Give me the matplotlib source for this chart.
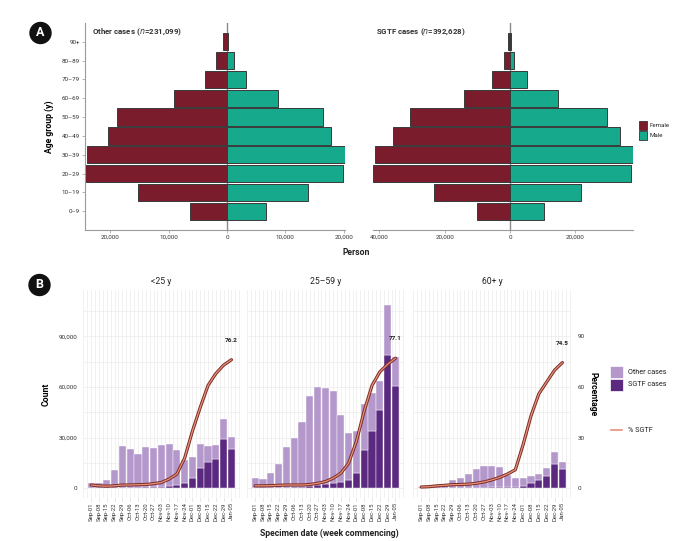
import matplotlib
matplotlib.use("Agg")
import matplotlib.pyplot as plt
from matplotlib.patches import Rectangle, Ellipse
from matplotlib.lines import Line2D
import numpy as np

plt.rcParams['font.family'] = ['Roboto', 'DejaVu Sans']

# ---- panel A data: cases by age group and sex ----
age_groups = ["0–9", "10–19", "20–29", "30–39", "40–49", "50–59",
              "60–69", "70–79", "80–89", "90+"]
other_female = [6340, 15260, 24340, 24060, 20460, 18860, 9030, 3830, 1830, 740]
other_male = [6630, 13940, 19940, 20170, 17770, 16460, 8740, 3260, 1140, 200]
sgtf_female = [10200, 23270, 41940, 41330, 35710, 30710, 14080, 5410, 1940, 610]
sgtf_male = [10410, 21630, 36940, 37650, 33670, 29690, 14690, 5100, 1220, 400]

# ---- panel B data: weekly counts by age band ----
weeks = ["Sep-01", "Sep-08", "Sep-15", "Sep-22", "Sep-29", "Oct-06", "Oct-13",
         "Oct-20", "Oct-27", "Nov-03", "Nov-10", "Nov-17", "Nov-24", "Dec-01",
         "Dec-08", "Dec-15", "Dec-22", "Dec-29", "Jan-05"]
facets = ["<25 y", "25–59 y", "60+ y"]
other_u25 = [3330, 2950, 5030, 10740, 24500, 22640, 19660, 23940, 23040, 24610,
             24950, 20770, 13200, 12500, 14000, 9500, 8700, 11700, 7100]
sgtf_u25 = [70, 50, 70, 160, 500, 460, 440, 560, 660, 890,
            1450, 1930, 3400, 5900, 12200, 15400, 17200, 29200, 23300]
pct_u25 = [2.0, 1.5, 1.3, 1.5, 2.0, 2.0, 2.2, 2.3, 2.8, 3.5,
           5.5, 8.5, 18, 34, 48, 61, 68, 73, 76.2]
other_25_59 = [5810, 5220, 9150, 14340, 24010, 29200, 38320, 53640, 58400, 57000,
               54000, 39700, 28100, 24500, 27000, 22500, 17000, 29600, 17400]
sgtf_25_59 = [90, 80, 150, 260, 490, 600, 780, 1260, 1800, 2400,
              3400, 3900, 4900, 9300, 22900, 34200, 46600, 79200, 60400]
pct_25_59 = [1.5, 1.5, 1.6, 1.8, 2.0, 2.0, 2.0, 2.3, 3.0, 4.0,
             6.0, 9.0, 15, 28, 46, 61, 69, 73.5, 77.1]
other_60p = [594, 990, 1770, 2550, 4600, 5770, 8090, 10960, 12510, 12350,
             11530, 7330, 5540, 4700, 4300, 4000, 4700, 7100, 4000]
sgtf_60p = [6, 10, 30, 50, 100, 130, 210, 340, 490, 650,
            870, 770, 760, 1400, 3200, 4700, 7500, 14200, 11600]
pct_60p = [0.8, 1.0, 1.5, 1.8, 2.2, 2.3, 2.5, 3.0, 3.8, 5.0,
           6.5, 8.5, 11, 26, 43, 56, 63, 70, 74.5]

FEMALE = "#7a1c2b"
MALE = "#17a98b"
LIGHT = "#b497cb"
DARK = "#5b2a80"

W, H = 692, 541
fig = plt.figure(figsize=(W / 100, H / 100), dpi=100)


def box(x0, y0, x1, y1):
    return [x0 / W, 1 - y1 / H, (x1 - x0) / W, (y1 - y0) / H]


def fx(x):
    return x / W


def fy(y):
    return 1 - y / H


def comma(v):
    return f"{abs(int(v)):,}"


# ---------------- panel A ----------------
pyr = [
    (box(85, 23, 345, 230), other_female, other_male, (-24340, 20240),
     [-20000, -10000, 0, 10000, 20000], "Other cases (", "231,099", True),
    (box(373, 23, 633, 230), sgtf_female, sgtf_male, (-41960, 37670),
     [-40000, -20000, 0, 20000], "SGTF cases (", "392,628", False),
]
yy = np.arange(len(age_groups))
for rect, fem, mal, xl, ticks, t1, nval, first in pyr:
    ax = fig.add_axes(rect)
    ax.axvline(0, color="#8a8a8a", lw=1.0, zorder=0)
    ax.barh(yy, -np.array(fem), height=0.92, color=FEMALE, edgecolor="#3a3a3a", lw=0.7)
    ax.barh(yy, mal, height=0.92, color=MALE, edgecolor="#3a3a3a", lw=0.7)
    ax.set_xlim(xl)
    ax.set_ylim(-1, 10)
    for s in ["top", "right"]:
        ax.spines[s].set_visible(False)
    ax.spines["bottom"].set_color("#9a9a9a")
    ax.spines["bottom"].set_linewidth(0.8)
    ax.set_xticks(ticks)
    ax.set_xticklabels([comma(t) for t in ticks])
    ax.tick_params(axis="x", length=2, width=0.5, color="#9a9a9a",
                   labelsize=4.5, pad=1.5, labelcolor="#333333")
    tx = 0.027 if first else 0.012
    if first:
        ax.spines["left"].set_color("#9a9a9a")
        ax.spines["left"].set_linewidth(0.8)
        ax.set_yticks(yy)
        ax.set_yticklabels(age_groups)
        ax.tick_params(axis="y", length=2, width=0.5, color="#9a9a9a",
                       labelsize=4.5, pad=1.5, labelcolor="#333333")
        ax.set_ylabel("Age group (y)", fontsize=6.2, fontweight="bold", labelpad=6)
    else:
        ax.spines["left"].set_visible(False)
        ax.set_yticks([])
    ax.text(tx, 0.955, t1 + "$\\it{n}$=" + nval + ")", transform=ax.transAxes,
            fontsize=5.7, fontweight="bold", color="#333333", va="center")

fig.text(fx(356), fy(253), "Person", fontsize=6.2, fontweight="bold",
         ha="center", va="center", color="#222222")

# sex legend
for i, (lab, col) in enumerate([("Female", FEMALE), ("Male", MALE)]):
    y0 = 121 + i * 10
    fig.add_artist(Rectangle((fx(638.5), fy(y0 + 9)), 8.5 / W, 9 / H,
                             facecolor=col, edgecolor="#333333", lw=0.6))
    fig.text(fx(650), fy(y0 + 4.5), lab, fontsize=4.4, va="center", color="#222222")

# ---------------- panel B ----------------
xs = np.arange(len(weeks))
data_b = [(other_u25, sgtf_u25, pct_u25),
          (other_25_59, sgtf_25_59, pct_25_59),
          (other_60p, sgtf_60p, pct_60p)]
rects_b = [box(83, 290, 240, 498), box(247, 290, 404, 498), box(413, 290, 571, 498)]
for k, (rect, (oth, sg, pc)) in enumerate(zip(rects_b, data_b)):
    ax = fig.add_axes(rect)
    ax.set_xlim(-1.05, 19.1)
    ax.set_ylim(-5700, 117500)
    for gx in np.arange(-1, 19.6, 0.5):
        ax.axvline(gx, color="#ececec", lw=0.5, zorder=0)
    for gy in np.arange(0, 117000, 15000):
        ax.axhline(gy, color="#ececec", lw=0.5, zorder=0)
    ax.bar(xs, sg, width=0.92, color=DARK, edgecolor="white", lw=0.3, zorder=2)
    ax.bar(xs, oth, bottom=sg, width=0.92, color=LIGHT, edgecolor="white", lw=0.3, zorder=2)
    pv = np.array(pc) * 1000
    ax.plot(xs, pv, color="#7b2d26", lw=2.3, solid_capstyle="round", zorder=3)
    ax.plot(xs, pv, color="#e8907a", lw=0.9, solid_capstyle="round", zorder=4)
    ax.text(xs[-1], pv[-1] + 11500, f"{pc[-1]}", fontsize=4.6, fontweight="bold",
            ha="center", va="center", color="#222222")
    for s in ax.spines.values():
        s.set_visible(False)
    ax.set_xticks(xs)
    ax.set_xticklabels(weeks, rotation=90)
    ax.tick_params(axis="x", length=2, width=0.4, color="#cccccc",
                   labelsize=4.3, pad=1, labelcolor="#333333")
    ax.set_title(facets[k], fontsize=6.2, color="#222222", pad=4)
    yt = [0, 30000, 60000, 90000]
    ax.set_yticks(yt)
    if k == 0:
        ax.set_yticklabels([comma(t) for t in yt])
        ax.tick_params(axis="y", length=0, labelsize=4.5, pad=4, labelcolor="#333333")
        ax.set_ylabel("Count", fontsize=6.2, fontweight="bold", labelpad=6)
    elif k == 2:
        ax.yaxis.tick_right()
        ax.yaxis.set_label_position("right")
        ax.set_yticklabels([str(t // 1000) for t in yt])
        ax.tick_params(axis="y", length=0, labelsize=4.5, pad=5, labelcolor="#333333")
        ax.set_ylabel("Percentage", fontsize=6.2, fontweight="bold",
                      rotation=270, labelpad=9)
    else:
        ax.set_yticklabels([])
        ax.tick_params(axis="y", length=0)

fig.text(fx(329), fy(533), "Specimen date (week commencing)", fontsize=6.2,
         fontweight="bold", ha="center", va="center", color="#222222")

# case legend
for i, (lab, col) in enumerate([("Other cases", LIGHT), ("SGTF cases", DARK)]):
    y0 = 366 + i * 12.8
    fig.add_artist(Rectangle((fx(610), fy(y0 + 12.3)), 12.5 / W, 12.3 / H,
                             facecolor=col, edgecolor="white", lw=0.5))
    fig.text(fx(628), fy(y0 + 6), lab, fontsize=5.2, va="center", color="#222222")
fig.add_artist(Line2D([fx(611), fx(622)], [fy(430), fy(430)], color="#e8907a", lw=1.2))
fig.text(fx(628.5), fy(430), "% SGTF", fontsize=5.2, va="center", color="#222222")

# panel badges
for lab, cx, cy in [("A", 40.5, 33), ("B", 39.5, 285)]:
    fig.add_artist(Ellipse((fx(cx), fy(cy)), 21 / W, 21 / H, color="#111111"))
    fig.text(fx(cx), fy(cy), lab, fontsize=9, fontweight="bold", color="white",
             ha="center", va="center")

fig.savefig("out.png", dpi=100, facecolor="white")
